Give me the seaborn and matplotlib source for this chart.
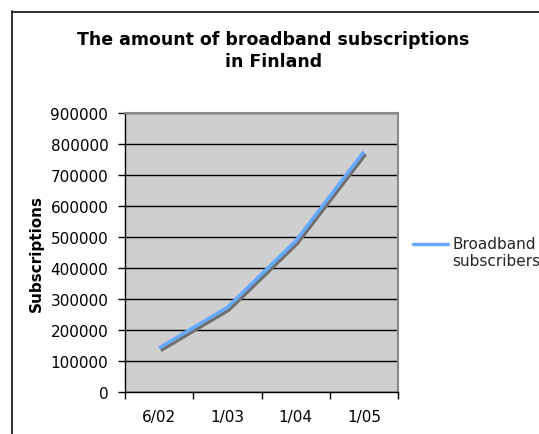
import matplotlib
matplotlib.use("Agg")
import matplotlib.pyplot as plt
import matplotlib.patheffects as pe
from matplotlib.lines import Line2D
from matplotlib.legend_handler import HandlerLine2D
import seaborn as sns
import pandas as pd

# Broadband subscriptions in Finland
periods = ["6/02", "1/03", "1/04", "1/05"]
subscriptions = [142000, 273000, 487000, 775000]
series_name = "Broadband\nsubscribers"

df = pd.DataFrame({"period": periods, "subscriptions": subscriptions})
df["pos"] = range(len(periods))

sns.set_theme(style="white")
plt.rcParams["font.family"] = ["DejaVu Sans"]

W, H = 539, 435
fig = plt.figure(figsize=(W / 100, H / 100), dpi=100)
fig.patch.set_facecolor("white")
ax = fig.add_axes([125 / W, 1 - 393 / H, (398 - 125) / W, (393 - 114) / H])
ax.set_facecolor("#CFCFCF")

line_color = "#66AAFF"
sns.lineplot(data=df, x="pos", y="subscriptions", ax=ax, color=line_color,
             linewidth=2.5, legend=False)
for ln in ax.get_lines():
    ln.set_path_effects([
        pe.SimpleLineShadow(offset=(1.2, -1.8), shadow_color="#707070", alpha=1.0),
        pe.Normal(),
    ])
    ln.set_solid_capstyle("butt")

# y axis
ax.set_ylim(0, 900000)
ax.set_yticks(range(0, 900001, 100000))
ax.set_yticklabels([str(v) for v in range(0, 900001, 100000)])
ax.yaxis.grid(True, color="black", linewidth=1.0)
ax.set_axisbelow(True)
ax.tick_params(axis="y", which="major", direction="out", length=5, width=1,
               color="black", pad=7, labelsize=11, labelcolor="black", left=True)

# x axis: tick marks between categories, labels centred on categories
ax.set_xlim(-0.5, len(periods) - 0.5)
ax.set_xticks([i - 0.5 for i in range(len(periods) + 1)])
ax.set_xticklabels([])
ax.set_xticks(range(len(periods)), minor=True)
ax.set_xticklabels(periods, minor=True)
ax.tick_params(axis="x", which="major", direction="out", length=5, width=1,
               color="black", bottom=True)
ax.tick_params(axis="x", which="minor", length=0, pad=12, labelsize=11,
               labelcolor="black")

ax.set_xlabel("")
ax.set_ylabel("Subscriptions", fontsize=11, fontweight="bold", color="black")
ax.yaxis.set_label_coords((44 - 125) / (398 - 125), 0.5)

for side in ["left", "bottom"]:
    ax.spines[side].set_color("black")
    ax.spines[side].set_linewidth(1.0)
for side in ["top", "right"]:
    ax.spines[side].set_color("#888888")
    ax.spines[side].set_linewidth(1.5)


class FirstLineHandler(HandlerLine2D):
    """Legend line drawn level with the first line of a two-line label."""

    def create_artists(self, legend, orig_handle, xdescent, ydescent,
                       width, height, fontsize, trans):
        return super().create_artists(legend, orig_handle, xdescent,
                                      ydescent - 13, width, height,
                                      fontsize, trans)


# legend
handle = Line2D([], [], color=line_color, linewidth=2.5)
leg = fig.legend([handle], [series_name], loc="center left",
                 bbox_to_anchor=(405 / W, 1 - 253 / H), frameon=False,
                 fontsize=11, handlelength=2.3, handletextpad=0.3,
                 borderpad=0, labelspacing=0,
                 handler_map={Line2D: FirstLineHandler()})

# title
fig.text(273.5 / W, 1 - 51 / H,
         "The amount of broadband subscriptions\nin Finland",
         ha="center", va="center", fontsize=12.5, fontweight="bold",
         color="black", linespacing=1.35)

# chart area border
fig.add_artist(Line2D([12 / W, 1.0], [1 - 12.5 / H, 1 - 12.5 / H],
                      color="#222222", linewidth=1.3, transform=fig.transFigure))
fig.add_artist(Line2D([12.5 / W, 12.5 / W], [1 - 12 / H, 0.0],
                      color="#222222", linewidth=1.3, transform=fig.transFigure))

fig.savefig("out.png", dpi=100)
